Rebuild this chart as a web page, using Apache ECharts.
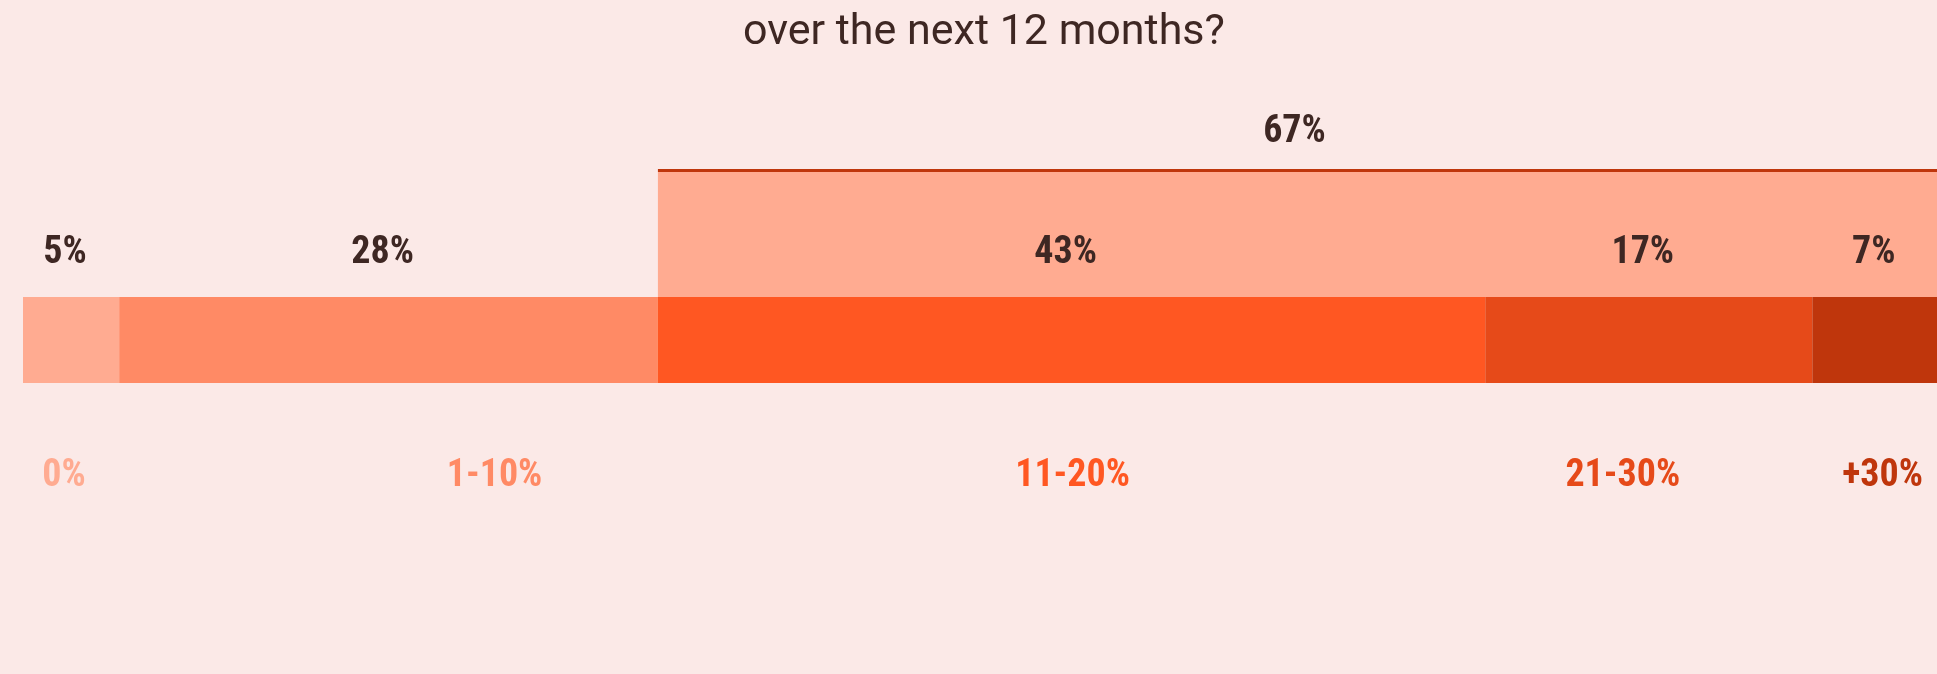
<!DOCTYPE html>
<html>
<head>
<meta charset="utf-8">
<script src="https://cdn.jsdelivr.net/npm/echarts@6/dist/echarts.min.js"></script>
<style>
  html, body { margin: 0; padding: 0; background: #FBE9E7; }
  #chart { width: 1937px; height: 674px; }
</style>
</head>
<body>
<div id="chart"></div>
<script>
// data
var categories = ['0%', '1-10%', '11-20%', '21-30%', '+30%'];
var shares = [5, 28, 43, 17, 7];
var groupTotal = 67; // 11-20% and over
var titleText = 'over the next 12 months?';

// styles
var colors = ['#FFAB91', '#FF8A65', '#FF5722', '#E64A19', '#BF360C'];
var dark = '#3E2723';
// Roboto is variable here, so "condensed" narrows it like the original face
var labelWeight = 'bold condensed';
var labelFont = 'Roboto';
var labelSize = 38;
var rangeShift = {'0%': -7, '1-10%': 106, '11-20%': 1, '21-30%': -26, '+30%': 3};

var groupStart = shares[0] + shares[1];

var series = [];
categories.forEach(function (cat, i) {
    series.push({
        name: cat,
        type: 'bar',
        stack: 'share',
        z: 3,
        barWidth: '100%',
        barGap: '-100%',
        itemStyle: {color: colors[i]},
        label: {
            show: true,
            position: 'top',
            distance: 25,
            offset: [-6, 0],
            formatter: '{c}%',
            color: dark,
            fontFamily: labelFont,
            fontWeight: labelWeight,
            fontSize: labelSize
        },
        data: [shares[i]]
    });
});
categories.forEach(function (cat, i) {
    series.push({
        name: cat + ' label',
        type: 'bar',
        stack: 'range',
        z: 3,
        barWidth: '100%',
        barGap: '-100%',
        silent: true,
        itemStyle: {color: 'transparent'},
        label: {
            show: true,
            position: 'bottom',
            distance: 74,
            offset: [rangeShift[cat] || 0, 0],
            formatter: cat,
            color: colors[i],
            fontFamily: labelFont,
            fontWeight: labelWeight,
            fontSize: labelSize
        },
        data: [shares[i]]
    });
});

// box over the upper ranges
series.push({
    type: 'custom',
    z: 1,
    silent: true,
    encode: {x: [0, 1]},
    data: [[groupStart, groupStart + groupTotal]],
    renderItem: function (params, api) {
        var a = api.coord([api.value(0), 0]);
        var b = api.coord([api.value(1), 0]);
        var band = api.size([0, 1])[1];
        var top = a[1] - band / 2;
        var h = 125;
        return {
            type: 'group',
            children: [
                {
                    type: 'rect',
                    shape: {x: a[0], y: top - h, width: b[0] - a[0], height: h},
                    style: {fill: colors[0]},
                    textContent: {
                        style: {
                            text: groupTotal + '%',
                            fill: dark,
                            font: labelWeight + ' ' + labelSize + 'px ' + labelFont
                        }
                    },
                    textConfig: {position: 'top', distance: 21, offset: [-8, 0]}
                },
                {
                    type: 'rect',
                    shape: {x: a[0], y: top - h - 3, width: b[0] - a[0], height: 3},
                    style: {fill: colors[4]}
                }
            ]
        };
    }
});

var myChart = echarts.init(document.getElementById('chart'));
myChart.setOption({
    backgroundColor: '#FBE9E7',
    animation: false,
    title: {
        text: titleText,
        left: 743,
        top: 12,
        padding: 0,
        textStyle: {
            fontFamily: 'Roboto',
            fontWeight: 'normal',
            fontSize: 43,
            color: dark
        }
    },
    grid: {
        left: 23,
        top: 297,
        width: 1924,
        height: 86,
        outerBoundsMode: 'none'
    },
    xAxis: {
        type: 'value',
        min: 0,
        max: 100,
        show: false
    },
    yAxis: {
        type: 'category',
        data: ['share'],
        show: false
    },
    series: series
});
</script>
</body>
</html>
